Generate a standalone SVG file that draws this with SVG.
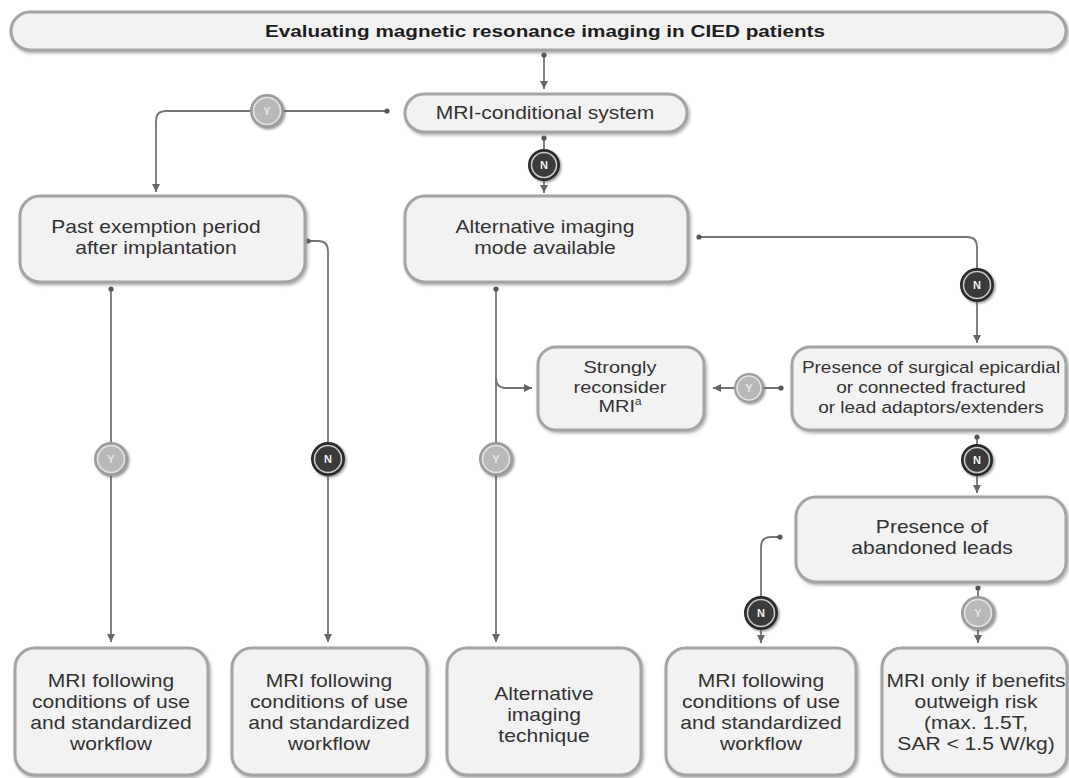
<svg xmlns="http://www.w3.org/2000/svg" width="1069" height="778" viewBox="0 0 1069 778">
<style>
.box{fill:#f2f2f2;stroke:#a4a4a4;stroke-width:3;filter:url(#sh)}
.t{font-family:"Liberation Sans",Arial,sans-serif;font-size:18px;fill:#333;text-anchor:middle}
.ts{font-size:16.5px}
.tm{font-size:17px}
.title{font-family:"Liberation Sans",Arial,sans-serif;font-size:17px;font-weight:bold;fill:#1e1e1e;text-anchor:middle}
.c{fill:none;stroke:#747474;stroke-width:1.8;marker-start:url(#dot);marker-end:url(#arr)}
.yo{fill:#9c9c9c;filter:url(#sh2)}
.yr{fill:#b8b8b8;stroke:#e4e4e4;stroke-width:1.6}
.no{fill:#2a2a2a;filter:url(#sh2)}
.nr{fill:#3a3a3a;stroke:#c8c8c8;stroke-width:1.6}
.yl{font-family:"Liberation Sans",Arial,sans-serif;font-size:11px;font-weight:bold;fill:#e6e6e6;text-anchor:middle}
.nl{font-family:"Liberation Sans",Arial,sans-serif;font-size:11px;font-weight:bold;fill:#f4f4f4;text-anchor:middle}
</style>
<defs>
<filter id="sh" x="-10%" y="-10%" width="120%" height="130%">
<feDropShadow dx="1.5" dy="2" stdDeviation="1.5" flood-color="#777" flood-opacity="0.55"/>
</filter>
<filter id="sh2" x="-30%" y="-30%" width="160%" height="160%">
<feDropShadow dx="1.5" dy="1.5" stdDeviation="1.2" flood-color="#555" flood-opacity="0.6"/>
</filter>
<marker id="arr" markerUnits="userSpaceOnUse" markerWidth="10" markerHeight="10" viewBox="0 0 10 10" refX="9" refY="5" orient="auto">
<path d="M1 1 L9 5 L1 9 Z" fill="#666"/>
</marker>
<marker id="dot" markerUnits="userSpaceOnUse" markerWidth="6" markerHeight="6" viewBox="0 0 6 6" refX="3" refY="3">
<circle cx="3" cy="3" r="2.6" fill="#555"/>
</marker>
</defs>
<rect width="1069" height="778" fill="#ffffff"/>

<g id="connectors">
<path class="c" d="M544 55 V89"/>
<path class="c" d="M387 111 H166 Q156 111 156 121 V192"/>
<path class="c" d="M544 138 V193"/>
<path class="c" d="M111 289 V642"/>
<path class="c" d="M308 241 H318 Q328 241 328 251 V642"/>
<path class="c" d="M496 289 V642"/>
<path fill="none" stroke="#747474" stroke-width="1.8" marker-end="url(#arr)" d="M496 378 Q496 388 506 388 H532"/>
<path class="c" d="M699 237 H967 Q977 237 977 247 V343"/>
<path class="c" d="M781 388 H713"/>
<path class="c" d="M977 437 V493"/>
<path class="c" d="M780 537 H771 Q761 537 761 547 V643"/>
<path class="c" d="M978 588 V643"/>
</g>

<g id="title">
<rect class="box" x="11" y="12" width="1055" height="38" rx="19"/>
<text class="title" x="545" y="37" textLength="560" lengthAdjust="spacingAndGlyphs">Evaluating magnetic resonance imaging in CIED patients</text>
</g>

<g id="mri-conditional">
<rect class="box" x="405" y="94" width="282" height="38" rx="19"/>
<g transform="translate(545 0) scale(1.17 1)"><text class="t" x="0" y="119">MRI-conditional system</text></g>
</g>

<g id="past-exemption">
<rect class="box" x="20" y="196" width="285" height="86" rx="20"/>
<g transform="translate(156 0) scale(1.17 1)">
<text class="t" x="0" y="233">Past exemption period</text>
<text class="t" x="0" y="254">after implantation</text>
</g>
</g>

<g id="alternative-mode">
<rect class="box" x="405" y="196" width="283" height="86" rx="20"/>
<g transform="translate(545 0) scale(1.17 1)">
<text class="t" x="0" y="233">Alternative imaging</text>
<text class="t" x="0" y="254">mode available</text>
</g>
</g>

<g id="strongly-reconsider">
<rect class="box" x="538" y="347" width="166" height="83" rx="18"/>
<g transform="translate(620 0) scale(1.17 1)">
<text class="t tm" x="0" y="373">Strongly</text>
<text class="t tm" x="0" y="393">reconsider</text>
<text class="t tm" x="0" y="412">MRI<tspan font-size="10" dy="-7">a</tspan></text>
</g>
</g>

<g id="surgical-epicardial">
<rect class="box" x="792" y="347" width="274" height="83" rx="18"/>
<g transform="translate(931 0) scale(1.15 1)">
<text class="t ts" x="0" y="373">Presence of surgical epicardial</text>
<text class="t ts" x="0" y="393">or connected fractured</text>
<text class="t ts" x="0" y="413">or lead adaptors/extenders</text>
</g>
</g>

<g id="abandoned-leads">
<rect class="box" x="796" y="497" width="270" height="85" rx="20"/>
<g transform="translate(932 0) scale(1.17 1)">
<text class="t" x="0" y="533">Presence of</text>
<text class="t" x="0" y="554">abandoned leads</text>
</g>
</g>

<g id="out1">
<rect class="box" x="15" y="648" width="193" height="127" rx="20"/>
<g transform="translate(111 0) scale(1.17 1)">
<text class="t" x="0" y="687">MRI following</text>
<text class="t" x="0" y="708">conditions of use</text>
<text class="t" x="0" y="729">and standardized</text>
<text class="t" x="0" y="750">workflow</text>
</g>
</g>

<g id="out2">
<rect class="box" x="232" y="648" width="195" height="127" rx="20"/>
<g transform="translate(329 0) scale(1.17 1)">
<text class="t" x="0" y="687">MRI following</text>
<text class="t" x="0" y="708">conditions of use</text>
<text class="t" x="0" y="729">and standardized</text>
<text class="t" x="0" y="750">workflow</text>
</g>
</g>

<g id="out3">
<rect class="box" x="447" y="648" width="194" height="127" rx="20"/>
<g transform="translate(544 0) scale(1.17 1)">
<text class="t" x="0" y="700">Alternative</text>
<text class="t" x="0" y="721">imaging</text>
<text class="t" x="0" y="742">technique</text>
</g>
</g>

<g id="out4">
<rect class="box" x="666" y="648" width="190" height="127" rx="20"/>
<g transform="translate(761 0) scale(1.17 1)">
<text class="t" x="0" y="687">MRI following</text>
<text class="t" x="0" y="708">conditions of use</text>
<text class="t" x="0" y="729">and standardized</text>
<text class="t" x="0" y="750">workflow</text>
</g>
</g>

<g id="out5">
<rect class="box" x="882" y="648" width="185" height="127" rx="20"/>
<g transform="translate(976 0) scale(1.17 1)">
<text class="t" x="0" y="687">MRI only if benefits</text>
<text class="t" x="0" y="708">outweigh risk</text>
<text class="t" x="0" y="729">(max. 1.5T,</text>
<text class="t" x="0" y="750">SAR &lt; 1.5 W/kg)</text>
</g>
</g>

<g id="badge-y1"><circle class="yo" cx="267" cy="111" r="17"/><circle class="yr" cx="267" cy="111" r="13.5"/><text class="yl" x="267" y="115">Y</text></g>
<g id="badge-n1"><circle class="no" cx="544" cy="165" r="16"/><circle class="nr" cx="544" cy="165" r="12.5"/><text class="nl" x="544" y="169">N</text></g>
<g id="badge-y2"><circle class="yo" cx="111" cy="459" r="17"/><circle class="yr" cx="111" cy="459" r="13.5"/><text class="yl" x="111" y="463">Y</text></g>
<g id="badge-n2"><circle class="no" cx="328" cy="459" r="17"/><circle class="nr" cx="328" cy="459" r="13.5"/><text class="nl" x="328" y="463">N</text></g>
<g id="badge-y3"><circle class="yo" cx="496" cy="459" r="17"/><circle class="yr" cx="496" cy="459" r="13.5"/><text class="yl" x="496" y="463">Y</text></g>
<g id="badge-n3"><circle class="no" cx="977" cy="285" r="17"/><circle class="nr" cx="977" cy="285" r="13.5"/><text class="nl" x="977" y="289">N</text></g>
<g id="badge-y4"><circle class="yo" cx="749" cy="388" r="15"/><circle class="yr" cx="749" cy="388" r="12"/><text class="yl" x="749" y="392">Y</text></g>
<g id="badge-n4"><circle class="no" cx="977" cy="460" r="16"/><circle class="nr" cx="977" cy="460" r="12.5"/><text class="nl" x="977" y="464">N</text></g>
<g id="badge-n5"><circle class="no" cx="761" cy="613" r="17"/><circle class="nr" cx="761" cy="613" r="13.5"/><text class="nl" x="761" y="617">N</text></g>
<g id="badge-y5"><circle class="yo" cx="978" cy="613" r="17"/><circle class="yr" cx="978" cy="613" r="13.5"/><text class="yl" x="978" y="617">Y</text></g>
</svg>
